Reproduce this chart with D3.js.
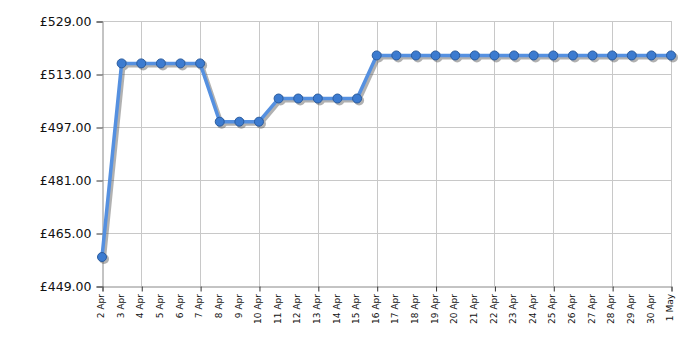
<!DOCTYPE html>
<html lang="en">
<head>
<meta charset="UTF-8">
<title>Price history</title>
<script src="https://cdn.jsdelivr.net/npm/d3@7"></script>
<style>
  body { margin: 0; background: #fff; }
  text { font-family: "DejaVu Sans", Verdana, sans-serif; fill: #111; }
</style>
</head>
<body>
<script>
// dates shown along the bottom
const dates = ['2 Apr','3 Apr','4 Apr','5 Apr','6 Apr','7 Apr','8 Apr','9 Apr','10 Apr','11 Apr',
  '12 Apr','13 Apr','14 Apr','15 Apr','16 Apr','17 Apr','18 Apr','19 Apr','20 Apr','21 Apr',
  '22 Apr','23 Apr','24 Apr','25 Apr','26 Apr','27 Apr','28 Apr','29 Apr','30 Apr','1 May']

// prices
const prices = [457.75, 516.2, 516.2, 516.2, 516.2, 516.2, 498.6, 498.6, 498.6, 505.6,
  505.6, 505.6, 505.6, 505.6, 518.6, 518.6, 518.6, 518.6, 518.6, 518.6,
  518.6, 518.6, 518.6, 518.6, 518.6, 518.6, 518.6, 518.6, 518.6, 518.6]

const yTicks = [449, 465, 481, 497, 513, 529]
// vertical gridlines every third day, counted from the end
const gridDays = ['4 Apr','7 Apr','10 Apr','13 Apr','16 Apr','19 Apr','22 Apr','25 Apr','28 Apr','1 May']

const width = 700
const height = 350
const plotLeft = 102, plotRight = 671, plotTop = 21, plotBottom = 286

const svg = d3.select('body').append('svg')
  .attr('width', width)
  .attr('height', height)

const x = d3.scalePoint().domain(dates).range([plotLeft, plotRight])
const y = d3.scaleLinear().domain([449, 529]).range([plotBottom, plotTop])

// grid
svg.append('g').selectAll('line')
  .data(yTicks.slice(1))
  .enter().append('line')
  .attr('x1', plotLeft).attr('x2', plotRight)
  .attr('y1', d => Math.round(y(d)) + 0.5).attr('y2', d => Math.round(y(d)) + 0.5)
  .attr('stroke', '#c8c8c8')

svg.append('g').selectAll('line')
  .data(gridDays)
  .enter().append('line')
  .attr('x1', d => Math.round(x(d)) + 0.5).attr('x2', d => Math.round(x(d)) + 0.5)
  .attr('y1', plotTop).attr('y2', plotBottom)
  .attr('stroke', '#c8c8c8')

// axes
const yAxis = d3.axisLeft(y)
  .tickValues(yTicks)
  .tickSize(6)
  .tickPadding(5)
  .tickFormat(d => '£' + d3.format('.2f')(d))

const yg = svg.append('g')
  .attr('transform', `translate(${plotLeft + 0.5},0.5)`)
  .call(yAxis)
yg.select('.domain').attr('stroke', '#888')
yg.selectAll('.tick line').attr('stroke', '#333')
yg.selectAll('text').style('font-size', '12.5px').attr('fill', '#111')

const xTickDays = [dates[0]].concat(gridDays)
const xAxis = d3.axisBottom(x)
  .tickValues(xTickDays)
  .tickSize(5)
  .tickFormat('')

const xg = svg.append('g')
  .attr('transform', `translate(0.5,${plotBottom + 0.5})`)
  .call(xAxis)
xg.select('.domain').attr('stroke', '#888')
xg.selectAll('.tick line').attr('stroke', '#333')

svg.append('g').selectAll('text')
  .data(dates)
  .enter().append('text')
  .attr('transform', d => `translate(${x(d) - 1},${plotBottom + 8}) rotate(-90)`)
  .attr('text-anchor', 'end')
  .attr('dy', '0.35em')
  .style('font-size', '9px')
  .text(d => d)

const line = d3.line()
  .x((d, i) => x(dates[i]))
  .y(d => y(d))

// shadow
const shadow = svg.append('g')
  .attr('transform', 'translate(2,2)')
  .attr('opacity', 0.45)
shadow.append('path')
  .datum(prices)
  .attr('d', line)
  .attr('fill', 'none')
  .attr('stroke', '#555')
  .attr('stroke-width', 4)
shadow.selectAll('circle')
  .data(prices)
  .enter().append('circle')
  .attr('cx', (d, i) => x(dates[i]))
  .attr('cy', d => y(d))
  .attr('r', 5)
  .attr('fill', '#555')

svg.append('path')
  .datum(prices)
  .attr('d', line)
  .attr('fill', 'none')
  .attr('stroke', '#5590e0')
  .attr('stroke-width', 3.5)
  .attr('stroke-linejoin', 'round')

svg.append('g').selectAll('circle')
  .data(prices)
  .enter().append('circle')
  .attr('cx', (d, i) => x(dates[i]))
  .attr('cy', d => y(d))
  .attr('r', 4.5)
  .attr('fill', '#3c7bd0')
  .attr('stroke', '#2b5c9e')
  .attr('stroke-width', 1)
</script>
</body>
</html>
